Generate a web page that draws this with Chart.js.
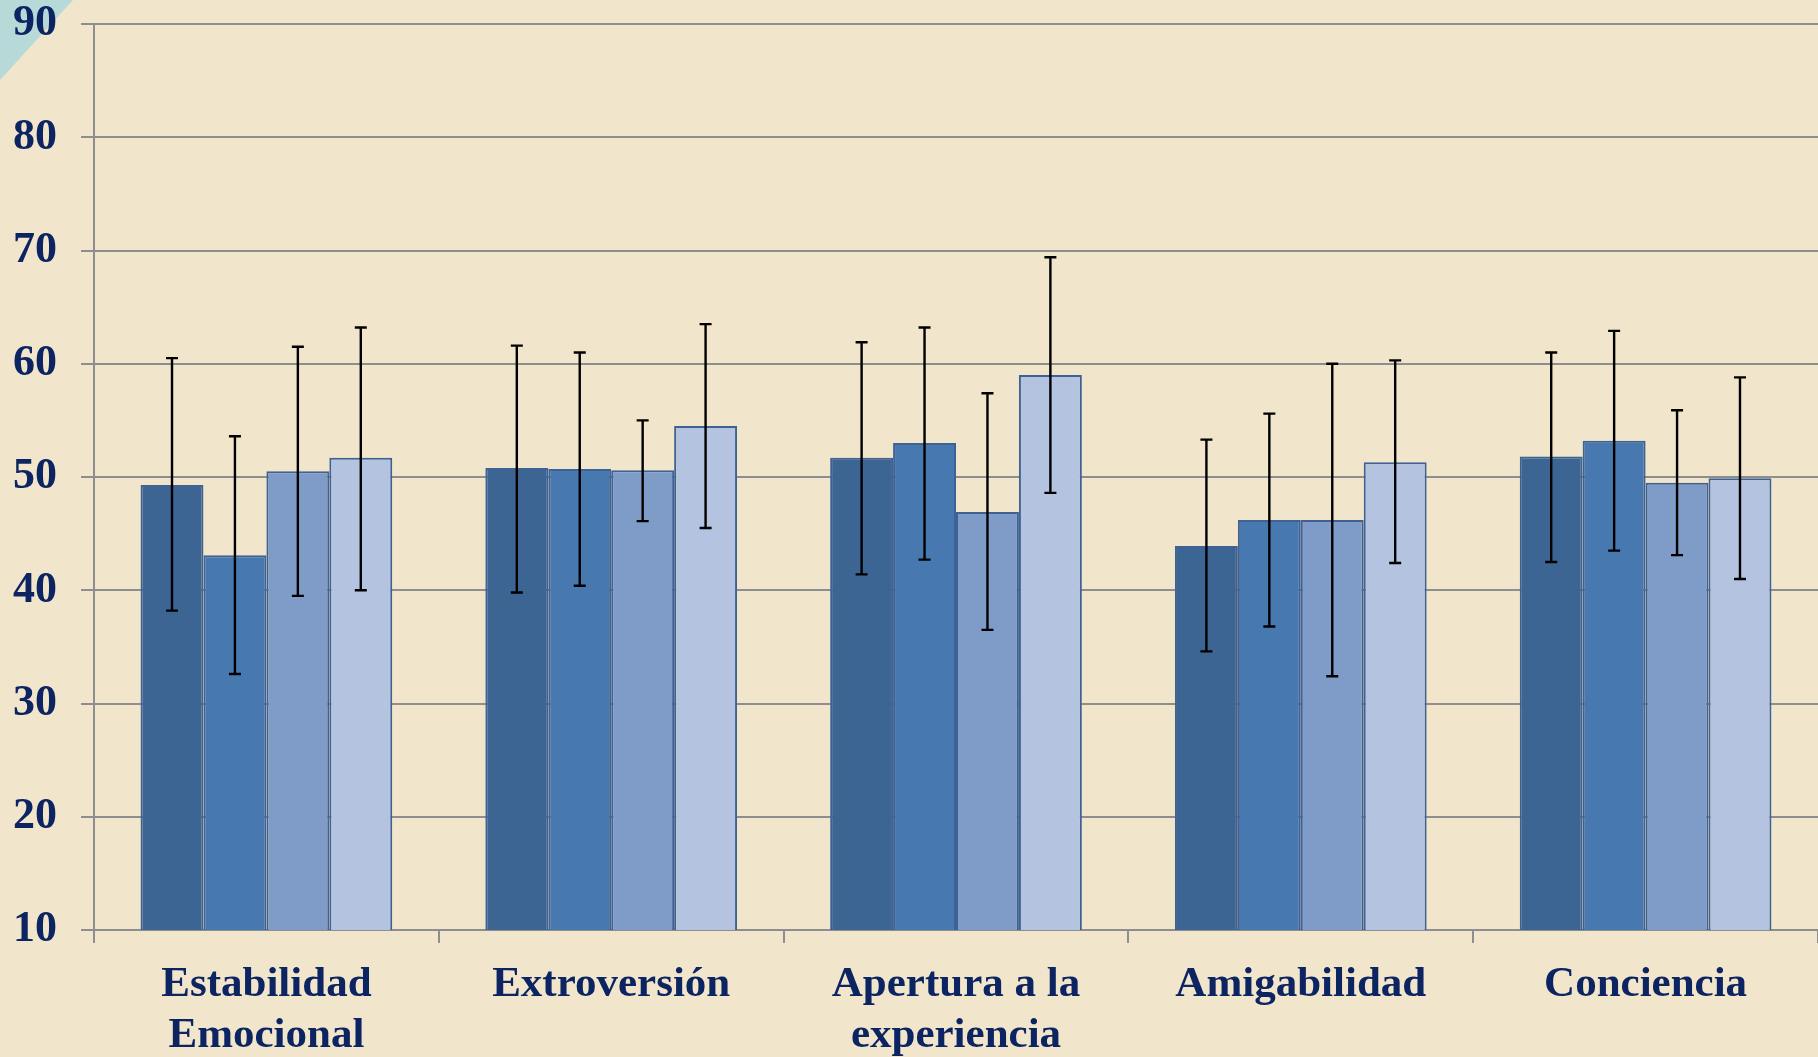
<!DOCTYPE html>
<html>
<head>
<meta charset="utf-8">
<script src="https://cdn.jsdelivr.net/npm/chart.js@4.4.1/dist/chart.umd.min.js"></script>
<style>
    html, body { margin: 0; padding: 0; background: #f1e5cb; }
    #wrap { width: 1818px; height: 1057px; }
</style>
</head>
<body>
<div id="wrap"><canvas id="chart" width="1818" height="1057"></canvas></div>
<script>
// ===== Data =====
const categories = [
    ["Estabilidad", "Emocional"],
    "Extroversión",
    ["Apertura a la", "experiencia"],
    "Amigabilidad",
    "Conciencia"
];

const group1 = [49.3, 50.8, 51.7, 43.9, 51.8];
const group2 = [43.1, 50.7, 53.0, 46.2, 53.2];
const group3 = [50.5, 50.6, 46.9, 46.2, 49.5];
const group4 = [51.7, 54.5, 59.0, 51.3, 49.9];

// error bar ends (upper / lower)
const group1High = [60.5, 61.6, 61.9, 53.3, 61.0];
const group1Low  = [38.2, 39.8, 41.4, 34.6, 42.5];
const group2High = [53.6, 61.0, 63.2, 55.6, 62.9];
const group2Low  = [32.6, 40.4, 42.7, 36.8, 43.5];
const group3High = [61.5, 55.0, 57.4, 60.0, 55.9];
const group3Low  = [39.5, 46.1, 36.5, 32.4, 43.1];
const group4High = [63.2, 63.5, 69.4, 60.3, 58.8];
const group4Low  = [40.0, 45.5, 48.6, 42.4, 41.0];

const yTicks = [10, 20, 30, 40, 50, 60, 70, 80, 90];

const textColor = "#0c2461";
const gridColor = "#8e8e8e";
const serif = "'Liberation Serif', 'DejaVu Serif', serif";

// ===== Background + corner triangle =====
const backgroundPlugin = {
    id: "background",
    beforeDraw(chart) {
        const ctx = chart.ctx;
        ctx.save();
        ctx.fillStyle = "#f1e5cb";
        ctx.fillRect(0, 0, chart.width, chart.height);
        ctx.fillStyle = "#b7dad9";
        ctx.beginPath();
        ctx.moveTo(0, 0);
        ctx.lineTo(73, 0);
        ctx.lineTo(0, 80);
        ctx.closePath();
        ctx.fill();
        ctx.restore();
    }
};

// ===== Error bars =====
const errorBarPlugin = {
    id: "errorBars",
    afterDatasetsDraw(chart) {
        const ctx = chart.ctx;
        const yScale = chart.scales.y;
        ctx.save();
        ctx.strokeStyle = "#000000";
        ctx.lineWidth = 2.4;
        chart.data.datasets.forEach((ds, di) => {
            const meta = chart.getDatasetMeta(di);
            meta.data.forEach((bar, i) => {
                const x = bar.x;
                const yHi = yScale.getPixelForValue(ds.errHigh[i]);
                const yLo = yScale.getPixelForValue(ds.errLow[i]);
                ctx.beginPath();
                ctx.moveTo(x, yHi);
                ctx.lineTo(x, yLo);
                ctx.moveTo(x - 6, yHi);
                ctx.lineTo(x + 6, yHi);
                ctx.moveTo(x - 6, yLo);
                ctx.lineTo(x + 6, yLo);
                ctx.stroke();
            });
        });
        ctx.restore();
    }
};

function makeSet(values, high, low, color) {
    return {
        data: values,
        errHigh: high,
        errLow: low,
        backgroundColor: color,
        borderColor: "#3d6293",
        borderWidth: 2,
        borderSkipped: "bottom",
        categoryPercentage: 0.73,
        barPercentage: 1.0
    };
}

const ctx = document.getElementById("chart").getContext("2d");
new Chart(ctx, {
    type: "bar",
    data: {
        labels: categories,
        datasets: [
            makeSet(group1, group1High, group1Low, "#3c6594"),
            makeSet(group2, group2High, group2Low, "#4878b0"),
            makeSet(group3, group3High, group3Low, "#7f9cc8"),
            makeSet(group4, group4High, group4Low, "#b4c3df")
        ]
    },
    options: {
        responsive: false,
        animation: false,
        layout: { padding: 0 },
        plugins: {
            legend: { display: false },
            tooltip: { enabled: false }
        },
        scales: {
            x: {
                offset: true,
                grid: {
                    offset: true,
                    drawOnChartArea: false,
                    drawTicks: true,
                    tickLength: 13,
                    color: gridColor,
                    lineWidth: 2
                },
                border: { display: true, color: gridColor, width: 2 },
                ticks: {
                    color: textColor,
                    font: { family: serif, size: 43, weight: "bold", lineHeight: 1.18 },
                    padding: 17,
                    maxRotation: 0,
                    autoSkip: false
                },
                afterFit(scale) {
                    scale.height = 127;
                    scale.paddingLeft = 0;
                    scale.paddingRight = 0;
                }
            },
            y: {
                min: 10,
                max: 90,
                afterBuildTicks(scale) {
                    scale.ticks = yTicks.map(v => ({ value: v }));
                },
                grid: {
                    color: gridColor,
                    lineWidth: 2,
                    tickLength: 13
                },
                border: { display: true, color: gridColor, width: 2 },
                ticks: {
                    color: textColor,
                    font: { family: serif, size: 44, weight: "bold", lineHeight: 1.1 },
                    padding: 24
                },
                afterFit(scale) {
                    scale.width = 94;
                    scale.paddingTop = 24;
                    scale.paddingBottom = 0;
                }
            }
        }
    },
    plugins: [backgroundPlugin, errorBarPlugin]
});
</script>
</body>
</html>
